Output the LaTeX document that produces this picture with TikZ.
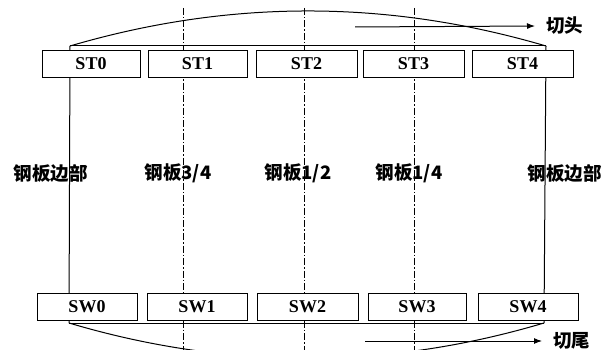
\documentclass[tikz,border=0pt]{standalone}
\usepackage{fontspec}
\setmainfont{Liberation Serif}
\newfontfamily\cjk{Noto Sans CJK SC}
\usetikzlibrary{arrows.meta}
\tikzset{
  box/.style={draw, line width=1pt, fill=white, minimum height=27pt, inner sep=0pt,
    font=\fontsize{18}{18}\selectfont\bfseries},
  cjklabel/.style={inner sep=0pt, font=\cjk\bfseries\fontsize{18.5}{18.5}\selectfont},
  cutlabel/.style={inner sep=0pt, anchor=west, font=\cjk\bfseries\fontsize{18.5}{18.5}\selectfont},
  solidline/.style={line width=1pt},
  axisline/.style={line width=0.8pt, dash pattern=on 7pt off 2pt on 1.5pt off 2pt},
  cutarrow/.style={line width=1pt, -{Latex[length=8pt,width=6pt]}}
}
\begin{document}
\begin{tikzpicture}[x=1pt,y=-1pt]
\useasboundingbox (0,0) rectangle (611,350);
% coordinates
\coordinate (tl) at (70,46);
\coordinate (tr) at (546,46);
\coordinate (bl) at (69,323);
\coordinate (br) at (544,323);
\coordinate (d1t) at (183,8);  \coordinate (d1b) at (183,352);
\coordinate (d2t) at (304,8);  \coordinate (d2b) at (304,352);
\coordinate (d3t) at (414,8);  \coordinate (d3b) at (414,352);
\coordinate (a1s) at (355,27);
\coordinate (a2s) at (365,341);
% labels
\node[cjklabel] (l0) at (50.5,173) {钢板边部};
\node[cjklabel] (l1) at (178,173) {钢板3/4};
\node[cjklabel] (l2) at (298,173) {钢板1/2};
\node[cjklabel] (l3) at (409,173) {钢板1/4};
\node[cjklabel] (l4) at (564.5,173) {钢板边部};
% lines
\draw[solidline] (tl) -- (bl);
\draw[solidline] (tr) -- (br);
\draw[axisline] (d1t) -- (d1b);
\draw[axisline] (d2t) -- (d2b);
\draw[axisline] (d3t) -- (d3b);
\draw[solidline] (tl) -- (tr);
\draw[solidline] (bl) -- (br);
\draw[solidline] (tl) .. controls (229,-0.7) and (387,-0.7) .. (tr);
\draw[solidline] (bl) .. controls (227,370) and (386,370) .. (br);
% boxes
\node[box, minimum width=98pt] (st0) at (91,64) {ST0};
\node[box, minimum width=99pt] (st1) at (197.5,64) {ST1};
\node[box, minimum width=101pt] (st2) at (306.5,64) {ST2};
\node[box, minimum width=101pt] (st3) at (413.5,64) {ST3};
\node[box, minimum width=101pt] (st4) at (522.5,64) {ST4};
\node[box, minimum width=100pt] (sw0) at (87,306.5) {SW0};
\node[box, minimum width=100pt] (sw1) at (197,306.5) {SW1};
\node[box, minimum width=101pt] (sw2) at (307.5,306.5) {SW2};
\node[box, minimum width=98pt] (sw3) at (417,306.5) {SW3};
\node[box, minimum width=100pt] (sw4) at (528,306.5) {SW4};
% cut arrows
\node[cutlabel] (ct) at (546,26) {切头};
\node[cutlabel] (cw) at (553,341) {切尾};
\draw[cutarrow] (a1s) -- ([xshift=-11pt]ct.west);
\draw[cutarrow] (a2s) -- ([xshift=-11pt]cw.west);
\end{tikzpicture}
\end{document}
